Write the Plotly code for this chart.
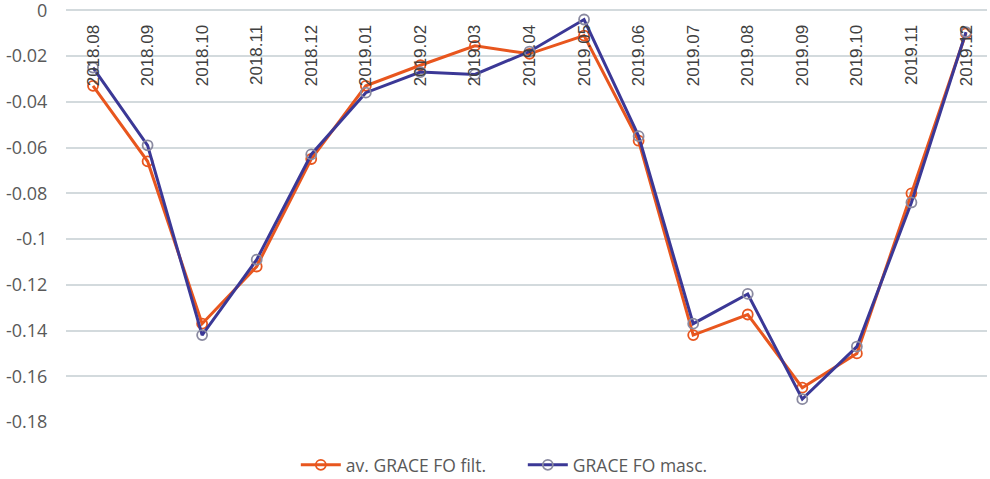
import plotly.graph_objects as go

months = ["2018.08", "2018.09", "2018.10", "2018.11", "2018.12",
          "2019.01", "2019.02", "2019.03", "2019.04", "2019.05", "2019.06",
          "2019.07", "2019.08", "2019.09", "2019.10", "2019.11", "2019.12"]

grace_filt = [-0.033, -0.066, -0.137, -0.112, -0.065,
              -0.033, -0.024, -0.0155, -0.019, -0.011, -0.057,
              -0.142, -0.133, -0.165, -0.150, -0.080, -0.010]

grace_masc = [-0.025, -0.059, -0.142, -0.109, -0.063,
              -0.036, -0.027, -0.028, -0.018, -0.004, -0.055,
              -0.137, -0.124, -0.170, -0.147, -0.084, -0.0095]

y_ticks = [0, -0.02, -0.04, -0.06, -0.08, -0.1, -0.12, -0.14, -0.16, -0.18]
y_labels = ["0", "-0.02", "-0.04", "-0.06", "-0.08", "-0.1",
            "-0.12", "-0.14", "-0.16", "-0.18"]

ORANGE = "#E8561E"
BLUE = "#3B3896"
GREY = "#595959"
GRID = "#D3DADD"

fig = go.Figure()
fig.add_trace(go.Scatter(
    x=months, y=grace_filt, mode="lines+markers", name="av. GRACE FO filt.",
    line=dict(color=ORANGE, width=3),
    marker=dict(symbol="circle-open", size=10, color=ORANGE,
                line=dict(width=1.8, color=ORANGE)),
))
fig.add_trace(go.Scatter(
    x=months, y=grace_masc, mode="lines+markers", name="GRACE FO masc.",
    line=dict(color=BLUE, width=3),
    marker=dict(symbol="circle-open", size=10, color="#8A8AA0",
                line=dict(width=1.8, color="#8A8AA0")),
))

fig.update_layout(
    width=990, height=479,
    paper_bgcolor="white", plot_bgcolor="white",
    font=dict(family="Open Sans, sans-serif", color=GREY, size=16),
    margin=dict(l=66, r=3, t=9, b=57, autoexpand=False),
    showlegend=True,
    legend=dict(orientation="h", x=0.496, xanchor="center", y=-0.104,
                yanchor="middle", font=dict(size=17.5, color=GREY),
                itemwidth=40, entrywidth=172, tracegroupgap=0),
    xaxis=dict(
        type="category", anchor="free", position=1, side="bottom",
        range=[-0.495, 16.385], automargin=False,
        tickangle=-90, ticks="outside", ticklen=8,
        tickcolor="rgba(0,0,0,0)",
        tickfont=dict(family="Liberation Sans, Arial, sans-serif",
                      size=17, color="#404040"),
        showgrid=False, showline=False, zeroline=False,
    ),
    yaxis=dict(
        # tiny headroom above 0 so the 0 gridline is not clipped at the edge
        range=[-0.18, 0.0006], tickvals=y_ticks, ticktext=y_labels,
        automargin=False, ticklabeloverflow="allow",
        showgrid=True, gridcolor=GRID, gridwidth=1.5,
        zeroline=False, showline=False,
        ticks="outside", ticklen=14, tickcolor="rgba(0,0,0,0)",
        tickfont=dict(size=18, color=GREY),
    ),
)

# drop the default 8px body margin so the figure sits at the window origin
fig.write_html("out.html", config={"displayModeBar": False},
               post_script="document.body.style.margin='0';")
